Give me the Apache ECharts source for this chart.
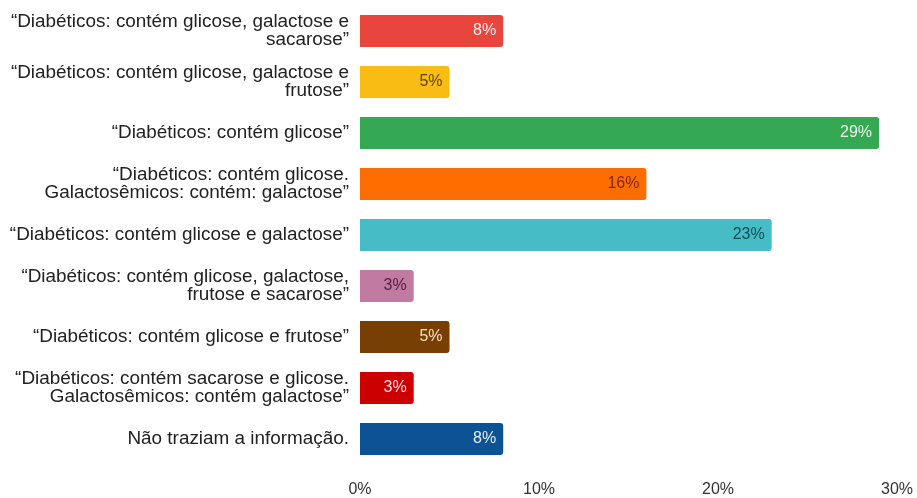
<!DOCTYPE html>
<html>
<head>
<meta charset="utf-8">
<script src="https://cdn.jsdelivr.net/npm/echarts@6/dist/echarts.min.js"></script>
<style>
html,body{margin:0;padding:0;background:#fff;}
#chart{width:917px;height:498px;}
</style>
</head>
<body>
<div id="chart"></div>
<script>
const categories = [
  "“Diabéticos: contém glicose, galactose e\nsacarose”",
  "“Diabéticos: contém glicose, galactose e\nfrutose”",
  "“Diabéticos: contém glicose”",
  "“Diabéticos: contém glicose.\nGalactosêmicos: contém: galactose”",
  "“Diabéticos: contém glicose e galactose”",
  "“Diabéticos: contém glicose, galactose,\nfrutose e sacarose”",
  "“Diabéticos: contém glicose e frutose”",
  "“Diabéticos: contém sacarose e glicose.\nGalactosêmicos: contém galactose”",
  "Não traziam a informação."
];
const values = [8, 5, 29, 16, 23, 3, 5, 3, 8];
const barColors = ["#E8453C", "#F9BC15", "#34A853", "#FF6D01", "#46BDC6", "#C27BA0", "#783F04", "#CC0000", "#0B5394"];
const labelColors = ["#fff3f2", "#5e4500", "#eaf6ec", "#7a2a00", "#0b4d57", "#55203f", "#fce0bf", "#ffdede", "#e3eef9"];
const xTicks = [0, 10, 20, 30];

const chart = echarts.init(document.getElementById('chart'));
chart.setOption({
  animation: false,
  grid: { left: 360, right: 20, top: 5.5, bottom: 33.5, containLabel: false },
  xAxis: {
    type: 'value', min: xTicks[0], max: xTicks[xTicks.length - 1], interval: 10,
    axisLine: { show: false }, axisTick: { show: false }, splitLine: { show: false },
    axisLabel: { formatter: '{value}%', color: '#333', fontSize: 16, fontFamily: 'Liberation Sans, Arial, sans-serif', margin: 17 }
  },
  yAxis: {
    type: 'category', data: categories, inverse: true,
    axisLine: { show: false }, axisTick: { show: false },
    axisLabel: { color: '#222', fontSize: 18.9, lineHeight: 18.5, fontFamily: 'Liberation Sans, Arial, sans-serif', margin: 11, align: 'right' }
  },
  series: [{
    type: 'bar',
    barWidth: 32,
    data: values.map((v, i) => ({
      value: v,
      itemStyle: { color: barColors[i], borderRadius: [0, 3, 3, 0] },
      label: { color: labelColors[i] }
    })),
    label: {
      show: true, position: 'insideRight', distance: 7,
      formatter: '{c}%', fontSize: 16, fontFamily: 'Liberation Sans, Arial, sans-serif'
    }
  }]
});
</script>
</body>
</html>
